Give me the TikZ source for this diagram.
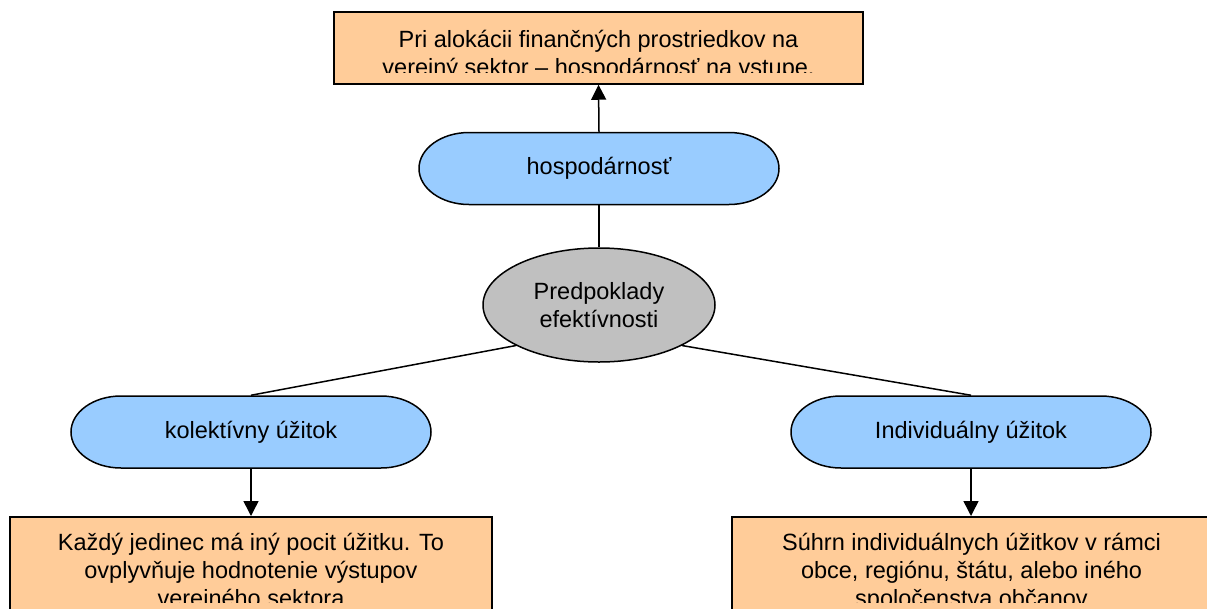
\documentclass[tikz,border=0pt]{standalone}
\usepackage{fontspec}
\setmainfont{Liberation Sans}
\usetikzlibrary{arrows.meta,shapes.geometric}
\definecolor{boxorange}{HTML}{FFCC99}
\definecolor{stadblue}{HTML}{99CCFF}
\definecolor{ellgrey}{HTML}{C0C0C0}
\newcommand\mystadium[2]{%
  \draw[stad] (#1-130,#2-36) -- (#1+130,#2-36)
    arc[start angle=-90,end angle=90,x radius=50,y radius=36]
    -- (#1-130,#2+36)
    arc[start angle=90,end angle=270,x radius=50,y radius=36] -- cycle;}
\newcommand\firstline{\rule{0pt}{20pt}}
\begin{document}
\begin{tikzpicture}[x=1pt,y=-1pt,
  line width=1.5pt,
  txt/.style={font=\fontsize{23.5}{28}\selectfont, align=center, inner sep=0pt},
  boxs/.style={draw, fill=boxorange, inner sep=0pt},
  stad/.style={draw, fill=stadblue},
  tag/.style={txt, minimum width=360pt, minimum height=72pt},
  conn/.style={draw, line width=1.5pt},
  arr/.style={conn, -{Triangle[length=15pt,width=15pt]}}
]
\useasboundingbox (0,0) rectangle (1207,608);
\clip (0,0) rectangle (1207,608);

% boxes
\node[boxs, minimum width=529pt, minimum height=72pt] (top) at (598.5,48) {};
\node[boxs, minimum width=482pt, minimum height=130pt, anchor=north] (lbox) at (251,516) {};
\node[boxs, minimum width=478pt, minimum height=130pt, anchor=north] (rbox) at (971,516) {};

% stadium shapes
\mystadium{599}{168.5}
\mystadium{251}{432}
\mystadium{971}{432}

% stadium labels
\node[tag] (hosp) at (599,168.5) {hospodárnosť};
\node[tag] (kol) at (251,432) {kolektívny úžitok};
\node[tag] (ind) at (971,432) {Individuálny úžitok};

% central ellipse
\node[ellipse, draw, fill=ellgrey, minimum width=232pt, minimum height=114pt, txt] (ell) at (599,305) {Predpoklady\\efektívnosti};

% box texts (clipped as in the reference)
\begin{scope}
  \clip (334,12) rectangle (863,72.5);
  \node[txt, anchor=north] (toptext) at (598.5,27) {\firstline Pri alokácii finančných prostriedkov na\\vereiný sektor – hospodárnosť na vstupe.};
\end{scope}
\begin{scope}
  \clip (0,516) rectangle (1207,602);
  \node[txt, anchor=north] (ltext) at (251,530) {\firstline Každý jedinec má iný pocit úžitku. To\\ovplyvňuje hodnotenie výstupov\\vereiného sektora};
  \node[txt, anchor=north] (rtext) at (971.5,530) {\firstline Súhrn individuálnych úžitkov v rámci\\obce, regiónu, štátu, alebo iného\\spoločenstva občanov};
\end{scope}

% connectors
\draw[arr] (hosp.north) -- (top.south);
\draw[conn] (hosp.south) -- (ell.north);
\draw[conn] (ell.206) -- (kol.north);
\draw[conn] (ell.334) -- (ind.north);
\draw[arr] (kol.south) -- (lbox.north);
\draw[arr] (ind.south) -- (rbox.north);
\end{tikzpicture}
\end{document}
